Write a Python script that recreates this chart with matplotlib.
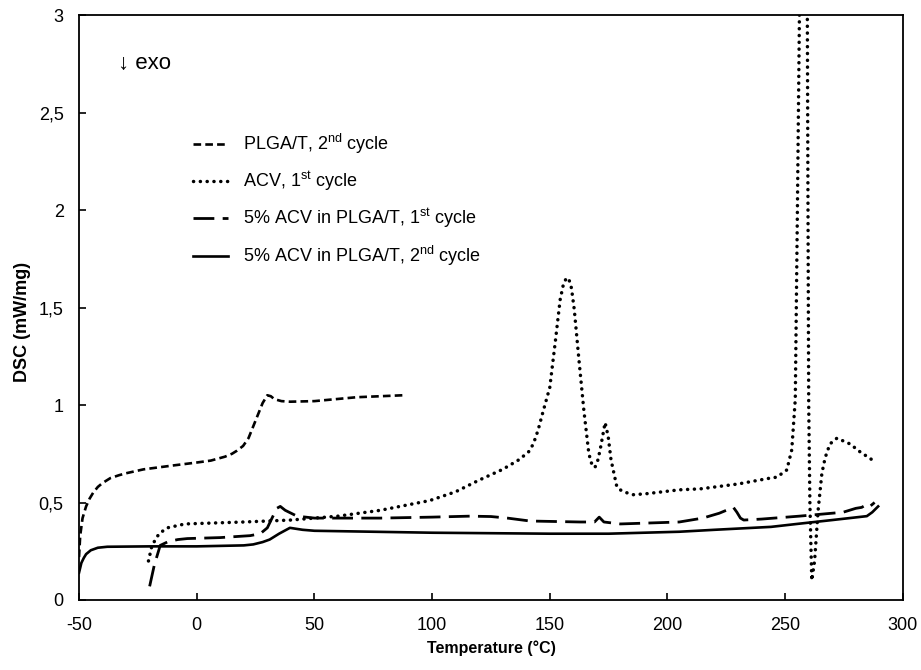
import matplotlib
matplotlib.use("Agg")
import matplotlib.pyplot as plt
from matplotlib.ticker import FuncFormatter, MultipleLocator

plt.rcParams['font.family'] = ['Liberation Sans', 'DejaVu Sans']
plt.rcParams['mathtext.fontset'] = 'custom'
plt.rcParams['mathtext.rm'] = 'Liberation Sans'
plt.rcParams['mathtext.it'] = 'Liberation Sans'
plt.rcParams['lines.scale_dashes'] = False
plt.rcParams['axes.unicode_minus'] = False

# ---- data ----
plga_T = [-50, -49.5, -48.5, -47, -45.5, -44, -42, -40, -36.7, -33, -30, -22.6, -10, 0,
          6, 12, 15, 17, 19.7, 22, 24, 26, 28, 30, 31.5, 33, 36, 39.7, 50, 68, 87.7]
plga_Y = [0.22, 0.33, 0.42, 0.48, 0.52, 0.55, 0.58, 0.60, 0.625, 0.64, 0.65, 0.67, 0.69,
          0.705, 0.715, 0.735, 0.75, 0.765, 0.79, 0.83, 0.89, 0.95, 1.01, 1.05, 1.045,
          1.03, 1.02, 1.017, 1.02, 1.04, 1.05]

acv_T = [-20.5, -19, -16, -12.5, -5, 20, 40, 60, 78, 99, 110, 120, 130, 137, 141, 143, 145,
         147, 150, 152.3, 154.4, 155.8, 157, 158, 159.2, 160.4, 162.4, 164.5, 166.6, 168,
         169.2, 170.5, 171.7, 173.5, 174.8, 176, 178.5, 180.5, 182.7, 185.5, 191, 205, 214,
         230, 243.6, 246.5, 250.7, 252.8, 254.3, 255.2, 256.1, 256.8, 258.7, 259.4, 259.7,
         260.0, 260.5, 261.3, 262.5, 264, 265.6, 267, 269, 272, 277.6, 281.8, 286.8]
acv_Y = [0.20, 0.28, 0.34, 0.37, 0.39, 0.40, 0.41, 0.43, 0.46, 0.51, 0.555, 0.615, 0.67,
         0.72, 0.76, 0.80, 0.87, 0.96, 1.09, 1.32, 1.54, 1.62, 1.65, 1.65, 1.6, 1.49, 1.23,
         0.97, 0.75, 0.69, 0.68, 0.72, 0.79, 0.91, 0.84, 0.72, 0.58, 0.56, 0.55, 0.54,
         0.545, 0.565, 0.57, 0.595, 0.625, 0.63, 0.667, 0.77, 1.03, 2.0, 3.05, 3.3, 3.3,
         3.05, 2.0, 1.0, 0.5, 0.10, 0.20, 0.46, 0.65, 0.73, 0.80, 0.83, 0.80, 0.76, 0.72]

c1_T = [-20, -18, -15.5, -12, -8, -4, 10, 22.7, 27, 30, 34, 35.5, 37.6, 42.6, 50, 60, 78,
        100, 116, 125, 132, 141.6, 163, 169, 171, 173, 180, 205, 215, 222, 228, 229.5, 231,
        232.4, 240, 256, 274.6, 280, 282.5, 284.7, 286, 288]
c1_Y = [0.07, 0.18, 0.28, 0.30, 0.31, 0.315, 0.32, 0.33, 0.34, 0.37, 0.47, 0.48, 0.46,
        0.43, 0.42, 0.42, 0.42, 0.425, 0.43, 0.428, 0.42, 0.405, 0.40, 0.40, 0.425, 0.40,
        0.39, 0.40, 0.42, 0.445, 0.475, 0.45, 0.42, 0.41, 0.415, 0.43, 0.45, 0.47, 0.475,
        0.49, 0.48, 0.50]

c2_T = [-50, -49, -48, -47, -45, -42, -38, -20, 0, 20, 24, 28, 31, 35, 39.6, 45, 50, 75,
        100, 150, 175, 205, 220, 244, 255, 270, 284.7, 287, 289.5]
c2_Y = [0.14, 0.19, 0.215, 0.235, 0.255, 0.268, 0.273, 0.275, 0.275, 0.28, 0.285, 0.297,
        0.31, 0.34, 0.37, 0.36, 0.355, 0.35, 0.345, 0.34, 0.34, 0.35, 0.36, 0.375, 0.39,
        0.41, 0.43, 0.45, 0.48]

labels = ['PLGA/T, 2$^{\\mathrm{nd}}$ cycle',
          'ACV, 1$^{\\mathrm{st}}$ cycle',
          '5% ACV in PLGA/T, 1$^{\\mathrm{st}}$ cycle',
          '5% ACV in PLGA/T, 2$^{\\mathrm{nd}}$ cycle']

x_ticks = [-50, 0, 50, 100, 150, 200, 250, 300]

# ---- figure ----
fig = plt.figure(figsize=(9.21, 6.70), dpi=100)
ax = fig.add_axes([0.0858, 0.1045, 0.8945, 0.873])

l1, = ax.plot(plga_T, plga_Y, color='black', lw=1.9, linestyle=(0, (5.5, 3)),
              label=labels[0])
l2, = ax.plot(acv_T, acv_Y, color='black', lw=2.5, linestyle=(0, (0.1, 4.8)),
              dash_capstyle='round', label=labels[1])
l3, = ax.plot(c1_T, c1_Y, color='black', lw=2.0, linestyle=(0, (15, 6)),
              label=labels[2])
l4, = ax.plot(c2_T, c2_Y, color='black', lw=1.9, linestyle='-', label=labels[3])

ax.set_xlim(-50, 300)
ax.set_ylim(0, 3)
ax.set_xticks(x_ticks)
ax.yaxis.set_major_locator(MultipleLocator(0.5))
ax.yaxis.set_major_formatter(FuncFormatter(lambda v, p: ('%g' % v).replace('.', ',')))
ax.tick_params(direction='in', length=5, width=1.2, labelsize=13, color='black')
ax.tick_params(axis='x', pad=12)
ax.tick_params(axis='y', pad=11)
for s in ax.spines.values():
    s.set_linewidth(1.3)

ax.set_xlabel('Temperature (°C)', fontsize=11.5, fontweight='bold', labelpad=5)
ax.set_ylabel('DSC (mW/mg)', fontsize=13, fontweight='bold', labelpad=4)
ax.yaxis.set_label_coords(-0.058, 0.475)

ax.text(118 / 921, 1 - 63 / 670, '↓ exo', transform=fig.transFigure, fontsize=16,
        family=['Liberation Sans', 'DejaVu Sans'], va='center', ha='left')

leg = ax.legend(handles=[l1, l2, l3, l4], loc='upper left',
                bbox_to_anchor=(193 / 921, 1 - 132 / 670),
                bbox_transform=fig.transFigure, frameon=False, fontsize=13,
                handlelength=1.94, handletextpad=0.83, labelspacing=0.75,
                borderpad=0, borderaxespad=0)

fig.savefig('out.png', dpi=100)
